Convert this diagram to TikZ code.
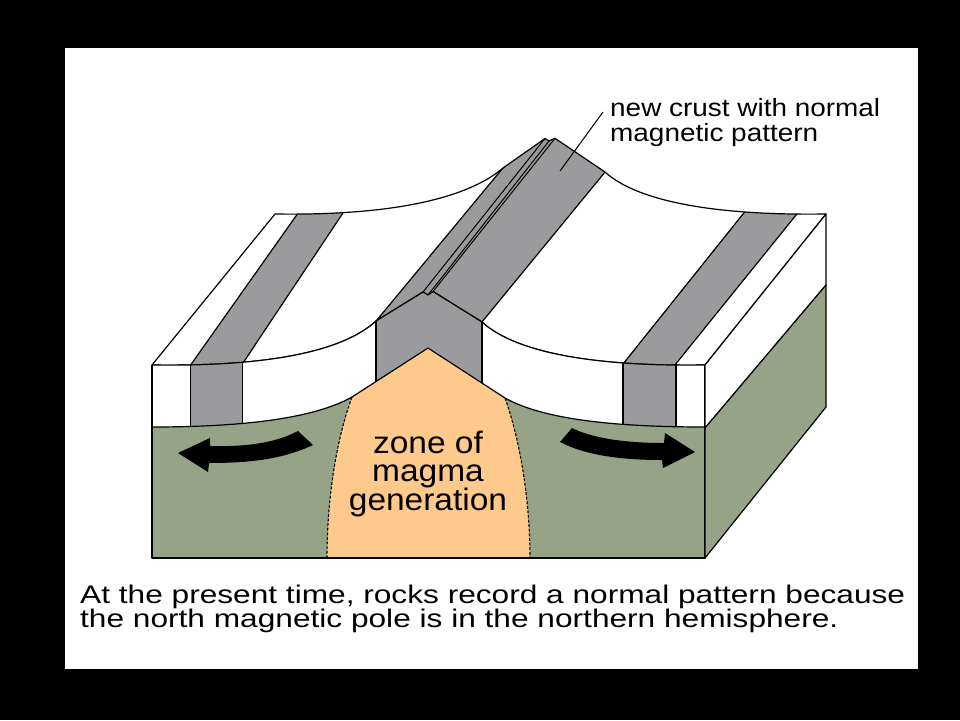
\documentclass[tikz,border=0pt]{standalone}
\usepackage{fontspec}
\setmainfont{Liberation Sans}
\definecolor{mantle}{RGB}{151,163,134}
\definecolor{stripegrey}{RGB}{155,155,157}
\definecolor{magmaorange}{RGB}{254,202,140}
\begin{document}
\begin{tikzpicture}[x=1pt,y=-1pt,line join=round]
\tikzset{
  edge/.style={draw=black,line width=1.2pt},
  thinedge/.style={draw=black,line width=1pt},
  dashedge/.style={draw=black,line width=1.1pt,dash pattern=on 3pt off 1.6pt},
  arrowshape/.style={fill=black},
  labeltext/.style={anchor=base west,inner sep=0pt,font=\fontsize{25}{25}\selectfont},
  captext/.style={anchor=base west,inner sep=0pt,font=\fontsize{25.5}{25}\selectfont},
  zonetext/.style={anchor=base,inner sep=0pt,font=\fontsize{31}{28}\selectfont}
}
\def\FT{(152,365) .. controls (290,367) and (350,345) .. (376,321) -- (423,292) -- (428,295) -- (433,291.5) -- (482,322) .. controls (507,345) and (567,367) .. (705,365)}
\def\BTrev{(826,214) .. controls (689,216) and (629,194) .. (605,172) -- (555,138.3) -- (549,141) -- (545,138.5) -- (503,168) .. controls (475,192) and (412,216) .. (275,214)}
\def\BC{(152,427) .. controls (260,427) and (320,415) .. (352,397) -- (428,348) -- (505,398) .. controls (537,416) and (597,427) .. (705,427)}
\def\BCrev{(705,427) .. controls (597,427) and (537,416) .. (505,398) -- (428,348) -- (352,397) .. controls (320,415) and (260,427) .. (152,427)}
% background
\fill[black] (0,0) rectangle (960,720);
\useasboundingbox (0,0) rectangle (960,720);
\fill[white] (65,48) rectangle (918,669);
% top surface
\fill[white] \FT -- \BTrev -- cycle;
\begin{scope}
  \clip \FT -- \BTrev -- cycle;
  \filldraw[fill=stripegrey,edge] (180,380) -- (308,199) -- (352.3,199) -- (232.7,378.5) -- cycle;
  \filldraw[fill=stripegrey,edge] (338,367) -- (541,122) -- (642,127) -- (445,367) -- cycle;
  \filldraw[fill=stripegrey,edge] (611,379) -- (755,199) -- (809,199) -- (664,378.5) -- cycle;
\end{scope}
\draw[edge] \FT -- \BTrev -- cycle;
\draw[thinedge] (423,292) -- (545,138.5);
\draw[thinedge] (428,295) -- (549,141);
\draw[thinedge] (433,291.5) -- (555,138.3);
% front face
\fill[white] \FT -- (705,558) -- (152,558) -- cycle;
\fill[mantle] \BC -- (705,558) -- (152,558) -- cycle;
\fill[magmaorange] (352,397) -- (428,348) -- (505,398) .. controls (520,440) and (530,500) .. (530,558) -- (327,558) .. controls (327,500) and (336,440) .. (352,397) -- cycle;
\begin{scope}
  \clip \FT -- \BCrev -- cycle;
  \filldraw[fill=stripegrey,edge] (190.7,280) rectangle (242.7,440);
  \filldraw[fill=stripegrey,edge] (376,280) rectangle (482,440);
  \filldraw[fill=stripegrey,edge] (623,280) rectangle (676,440);
\end{scope}
\draw[edge] \FT;
\draw[edge] \BC;
\draw[dashedge] (352,397) .. controls (336,440) and (327,500) .. (327,558);
\draw[dashedge] (505,398) .. controls (520,440) and (530,500) .. (530,558);
\draw[edge] (152,365) -- (152,558) -- (705,558) -- (705,365);
% right face
\filldraw[fill=white,edge] (705,365) -- (826,214) -- (826,285) -- (705,428) -- cycle;
\filldraw[fill=mantle,edge] (705,428) -- (826,285) -- (826,407) -- (705,558) -- cycle;
% arrows
\fill[arrowshape] (178,453) -- (210,438) -- (210,446) .. controls (250,447) and (277,442) .. (298,431) -- (313,445) .. controls (285,458) and (255,463) .. (209,463) -- (208,472) -- cycle;
\fill[arrowshape] (572,428) .. controls (590,437) and (620,443) .. (664,443) -- (665,433) -- (695,452) -- (663,468) -- (662,460) .. controls (620,460) and (585,455) .. (560,442) -- cycle;
% label and pointer
\node[labeltext] (lab1) at (610,116) {\scalebox{1.117}[1]{new crust with normal}};
\node[labeltext] (lab2) at (610,141.5) {\scalebox{1.117}[1]{magnetic pattern}};
\coordinate (ptrfoot) at (603,112);
\coordinate (ptrtip) at (560,171);
\draw[thinedge] (ptrfoot) -- (ptrtip);
% zone text
\node[zonetext] (zone1) at (428,453.3) {\scalebox{1.08}[1]{zone of}};
\node[zonetext] (zone2) at (428,481.7) {\scalebox{1.08}[1]{magma}};
\node[zonetext] (zone3) at (428,510) {\scalebox{1.08}[1]{generation}};
% caption
\node[captext] (cap1) at (80,603.3) {\scalebox{1.241}[1]{At the present time, rocks record a normal pattern because}};
\node[captext] (cap2) at (80,627.8) {\scalebox{1.241}[1]{the north magnetic pole is in the northern hemisphere.}};
\end{tikzpicture}
\end{document}
